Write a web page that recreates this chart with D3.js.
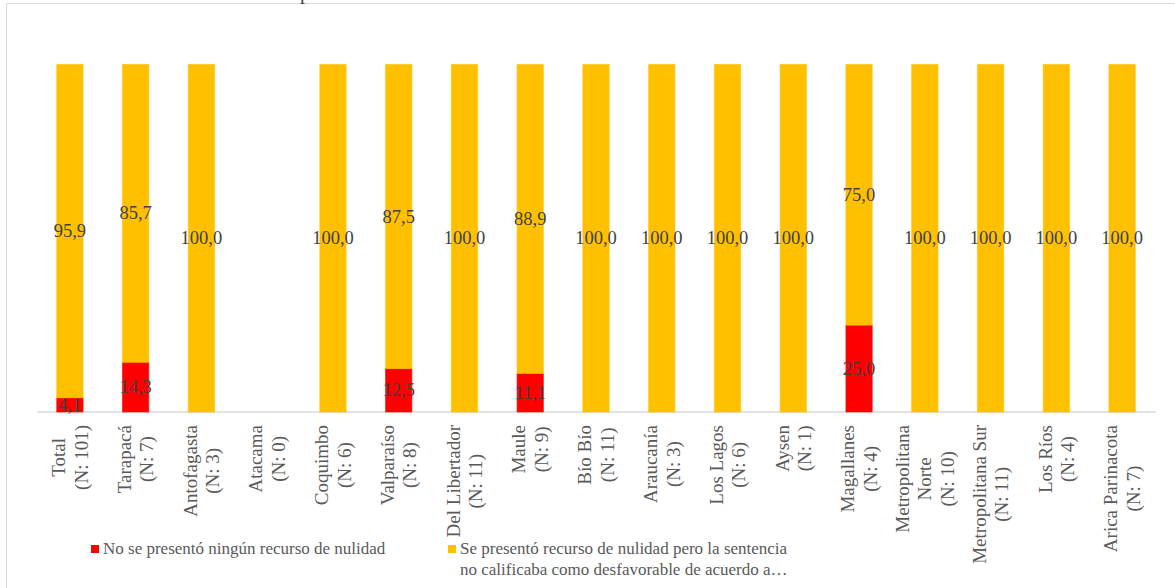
<!DOCTYPE html>
<html>
<head>
<meta charset="utf-8">
<script src="https://cdn.jsdelivr.net/npm/d3@7"></script>
<style>
  body { margin: 0; background: #fff; }
  text { font-family: "Liberation Serif", "DejaVu Serif", serif; }
</style>
</head>
<body>
<script>
// Data
var regions = ["Total", "Tarapacá", "Antofagasta", "Atacama", "Coquimbo", "Valparaíso",
  "Del Libertador", "Maule", "Bío Bío", "Araucanía", "Los Lagos", "Aysen", "Magallanes",
  "Metropolitana|Norte", "Metropolitana Sur", "Los Ríos", "Arica Parinacota"];
var counts = [101, 7, 3, 0, 6, 8, 11, 9, 11, 3, 6, 1, 4, 10, 11, 4, 7];
var noRecurso = [4.1, 14.3, 0, 0, 0, 12.5, 0, 11.1, 0, 0, 0, 0, 25.0, 0, 0, 0, 0];
var siRecurso = [95.9, 85.7, 100, 0, 100, 87.5, 100, 88.9, 100, 100, 100, 100, 75.0, 100, 100, 100, 100];
var seriesNames = ["No se presentó ningún recurso de nulidad",
  "Se presentó recurso de nulidad pero la sentencia|no calificaba como desfavorable de acuerdo a…"];
var seriesColors = ["#ff0000", "#ffc000"];

var W = 1175, H = 588;
var svg = d3.select("body").append("svg")
    .attr("width", W)
    .attr("height", H);

// chart area border
svg.append("rect")
    .attr("x", 6.5).attr("y", 3.5)
    .attr("width", 1200).attr("height", 600)
    .attr("fill", "#fff")
    .attr("stroke", "#d9d9d9");

// title (cut off at the top of the picture)
svg.append("text")
    .attr("x", 300).attr("y", -1)
    .attr("font-size", 20)
    .attr("fill", "#404040")
    .text("p");

var rows = regions.map(function(r, i) {
    return {name: r, n: counts[i], no: noRecurso[i], si: siRecurso[i]};
});

var x = d3.scaleBand()
    .domain(regions)
    .range([37, 1155])
    .paddingInner(0.6)
    .paddingOuter(0.3);

var y = d3.scaleLinear().domain([0, 100]).range([412, 64.5]);

// axis line
svg.append("line")
    .attr("x1", 37).attr("x2", 1156)
    .attr("y1", y(0)).attr("y2", y(0))
    .attr("stroke", "#d9d9d9")
    .attr("stroke-width", 1.5);

var stack = d3.stack().keys(["no", "si"]);
var series = stack(rows);

var groups = svg.selectAll("g.serie")
    .data(series)
    .join("g")
    .attr("class", "serie")
    .attr("fill", function(d, i) { return seriesColors[i]; })
    .attr("stroke", function(d, i) { return seriesColors[i]; });

// zero-size segments of the top series are not drawn (Atacama shows only a red line)
groups.selectAll("rect")
    .data(function(d, i) {
        return d.filter(function(s) { return i === 0 || s[1] - s[0] > 0; });
    })
    .join("rect")
    .attr("x", function(d) { return x(d.data.name); })
    .attr("width", x.bandwidth())
    .attr("y", function(d) { return y(d[1]); })
    .attr("height", function(d) { return y(d[0]) - y(d[1]); })
    .attr("stroke-width", 1)
    .attr("stroke-opacity", 0.6);

// data labels
var fmt = function(v) { return d3.format(".1f")(v).replace(".", ","); };
series.forEach(function(s) {
    svg.append("g").selectAll("text")
        .data(s.filter(function(d) { return d[1] - d[0] > 0; }))
        .join("text")
        .attr("x", function(d) { return x(d.data.name) + x.bandwidth() / 2; })
        .attr("y", function(d) { return y((d[0] + d[1]) / 2); })
        .attr("text-anchor", "middle")
        .attr("dominant-baseline", "central")
        .attr("font-size", 18.5)
        .attr("fill", "#404040")
        .text(function(d) { return fmt(d[1] - d[0]); });
});

// category labels, rotated, lines centred
var labelTop = 425, lineGap = 22.5;
rows.forEach(function(r) {
    var lines = r.name.split("|").concat(["(N: " + r.n + ")"]);
    var g = svg.append("g")
        .attr("transform", "translate(" + (x(r.name) + x.bandwidth() / 2) + "," + labelTop + ") rotate(-90)");
    var t = g.selectAll("text")
        .data(lines)
        .join("text")
        .attr("text-anchor", "middle")
        .attr("dominant-baseline", "central")
        .attr("font-size", 19)
        .attr("fill", "#595959")
        .attr("y", function(d, i) { return (i - (lines.length - 1) / 2) * lineGap; })
        .text(function(d) { return d; });
    var maxLen = d3.max(t.nodes(), function(n) { return n.getComputedTextLength(); });
    t.attr("x", -maxLen / 2);
});

// legend
var legendX = [91, 448];
seriesNames.forEach(function(name, i) {
    var lg = svg.append("g").attr("transform", "translate(" + legendX[i] + ",545)");
    lg.append("rect")
        .attr("width", 8).attr("height", 8)
        .attr("fill", seriesColors[i]);
    lg.selectAll("text")
        .data(name.split("|"))
        .join("text")
        .attr("x", 12)
        .attr("y", function(d, j) { return 9 + j * 20.5; })
        .attr("font-size", 17)
        .attr("fill", "#595959")
        .text(function(d) { return d; });
});
</script>
</body>
</html>
